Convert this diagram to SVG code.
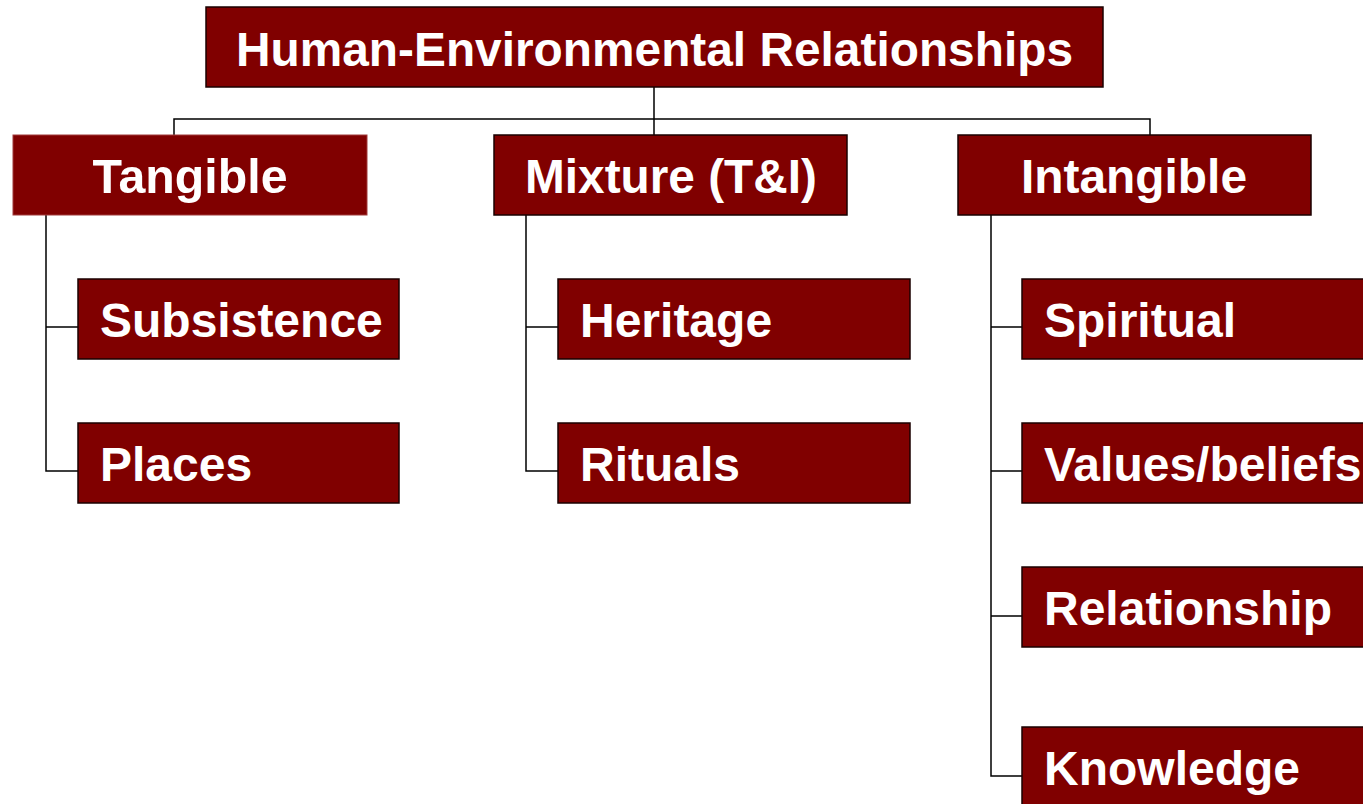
<svg xmlns="http://www.w3.org/2000/svg" width="1363" height="804" viewBox="0 0 1363 804">
<style>
.box{fill:#800000;stroke:#1a0000;stroke-width:1.5}
.boxl{fill:#800000;stroke:#a03a3a;stroke-width:1}
.t{fill:#ffffff;font-family:"Liberation Sans",Arial,sans-serif;font-weight:bold;font-size:48px}
.n{fill:#ffffff;font-family:"Liberation Sans Narrow","Liberation Sans",Arial,sans-serif;font-weight:bold;font-size:48px;text-anchor:middle}
.c{fill:none;stroke:#000;stroke-width:1.5}
</style>
<rect width="1363" height="804" fill="#ffffff"/>
<g id="connectors">
<path class="c" d="M654 87V119M174 135V119H1150V135M654 119V135"/>
<path class="c" d="M46 215V471H78M46 327H78"/>
<path class="c" d="M526 215V471H558M526 327H558"/>
<path class="c" d="M991 215V776H1022M991 327H1022M991 471H1022M991 616H1022"/>
</g>
<g id="root">
<rect class="box" x="206" y="7" width="897" height="80"/>
<text class="n" x="654.5" y="66" textLength="837" lengthAdjust="spacingAndGlyphs">Human-Environmental Relationships</text>
</g>
<g id="tangible">
<rect class="boxl" x="13" y="135" width="354" height="80"/>
<text class="n" x="190" y="193" textLength="195" lengthAdjust="spacingAndGlyphs">Tangible</text>
</g>
<g id="mixture">
<rect class="box" x="494" y="135" width="353" height="80"/>
<text class="n" x="671" y="193" textLength="292" lengthAdjust="spacingAndGlyphs">Mixture (T&amp;I)</text>
</g>
<g id="intangible">
<rect class="box" x="958" y="135" width="353" height="80"/>
<text class="n" x="1134" y="193" textLength="226" lengthAdjust="spacingAndGlyphs">Intangible</text>
</g>
<g id="subsistence">
<rect class="box" x="78" y="279" width="321" height="80"/>
<text class="t" x="100" y="337">Subsistence</text>
</g>
<g id="places">
<rect class="box" x="78" y="423" width="321" height="80"/>
<text class="t" x="100" y="481">Places</text>
</g>
<g id="heritage">
<rect class="box" x="558" y="279" width="352" height="80"/>
<text class="t" x="580" y="337">Heritage</text>
</g>
<g id="rituals">
<rect class="box" x="558" y="423" width="352" height="80"/>
<text class="t" x="580" y="481">Rituals</text>
</g>
<g id="spiritual">
<rect class="box" x="1022" y="279" width="352" height="80"/>
<text class="t" x="1044" y="337">Spiritual</text>
</g>
<g id="values">
<rect class="box" x="1022" y="423" width="352" height="80"/>
<text class="t" x="1044" y="481">Values/beliefs</text>
</g>
<g id="relationship">
<rect class="box" x="1022" y="567" width="352" height="80"/>
<text class="t" x="1044" y="625">Relationship</text>
</g>
<g id="knowledge">
<rect class="box" x="1022" y="727" width="352" height="80"/>
<text class="t" x="1044" y="785">Knowledge</text>
</g>
</svg>
